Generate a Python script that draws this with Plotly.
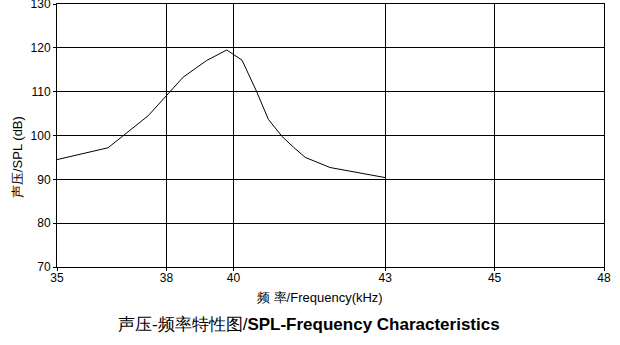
import numpy as np
import plotly.graph_objects as go

# Data
freq_khz = [35.0, 36.4, 37.5, 38.5, 39.2, 39.8, 40.17, 40.46, 40.69, 40.96, 41.19, 41.42, 41.91, 43.0]
spl_db = [94.5, 97.2, 104.5, 113.3, 117.1, 119.5, 117.2, 110.0, 103.7, 99.8, 97.3, 95.0, 92.7, 90.4]

x_tick_labels = [35, 38, 40, 43, 45, 48]
y_ticks = [70, 80, 90, 100, 110, 120, 130]

# The chart's frequency axis is piecewise (non-uniform) between labelled ticks
x_tick_frac = [0.0, 0.2, 0.3225, 0.6, 0.8, 1.0]


def fmap(f):
    return np.interp(f, x_tick_labels, x_tick_frac)


fig = go.Figure()
fig.add_trace(go.Scatter(
    x=fmap(freq_khz), y=spl_db, mode="lines",
    line=dict(color="black", width=1), hoverinfo="skip", showlegend=False,
))

font = "Liberation Sans, Arial, sans-serif"
fig.update_layout(
    width=620, height=345,
    margin=dict(l=57, r=16, t=4, b=78, autoexpand=False),
    paper_bgcolor="white", plot_bgcolor="white",
    font=dict(family=font, size=12, color="black"),
    xaxis=dict(
        range=[0, 1], tickmode="array", tickvals=fmap(x_tick_labels),
        ticktext=[str(v) for v in x_tick_labels],
        showgrid=True, gridcolor="black", gridwidth=1,
        showline=True, linecolor="black", linewidth=1, mirror=True,
        ticks="outside", ticklen=3, tickcolor="black", zeroline=False,
        tickfont=dict(size=12, color="black"), ticklabelstandoff=-3,
        ticklabeloverflow="allow", automargin=False,
    ),
    yaxis=dict(
        range=[70, 130], tickmode="array", tickvals=y_ticks,
        showgrid=True, gridcolor="black", gridwidth=1,
        showline=True, linecolor="black", linewidth=1, mirror=True,
        ticks="outside", ticklen=3, tickcolor="black", zeroline=False,
        tickfont=dict(size=12, color="black"), ticklabeloverflow="allow",
        automargin=False,
    ),
    annotations=[
        dict(text="频 率/Frequency(kHz)", xref="paper", yref="paper",
             x=(320 - 57) / 547, y=-(297 - 267) / 263, showarrow=False,
             xanchor="center", yanchor="middle", font=dict(size=13, family=font, color="black")),
        dict(text="声压-频率特性图/<b>SPL-Frequency Characteristics</b>", xref="paper", yref="paper",
             x=(309 - 57) / 547, y=-(324 - 267) / 263, showarrow=False,
             xanchor="center", yanchor="middle", font=dict(size=17, family=font, color="black")),
        dict(text="声压/SPL (dB)", xref="paper", yref="paper", textangle=-90,
             x=-(57 - 17) / 547, y=(267 - 157) / 263, showarrow=False,
             xanchor="center", yanchor="middle", font=dict(size=13, family=font, color="black")),
    ],
)

fig.write_html("out.html")
